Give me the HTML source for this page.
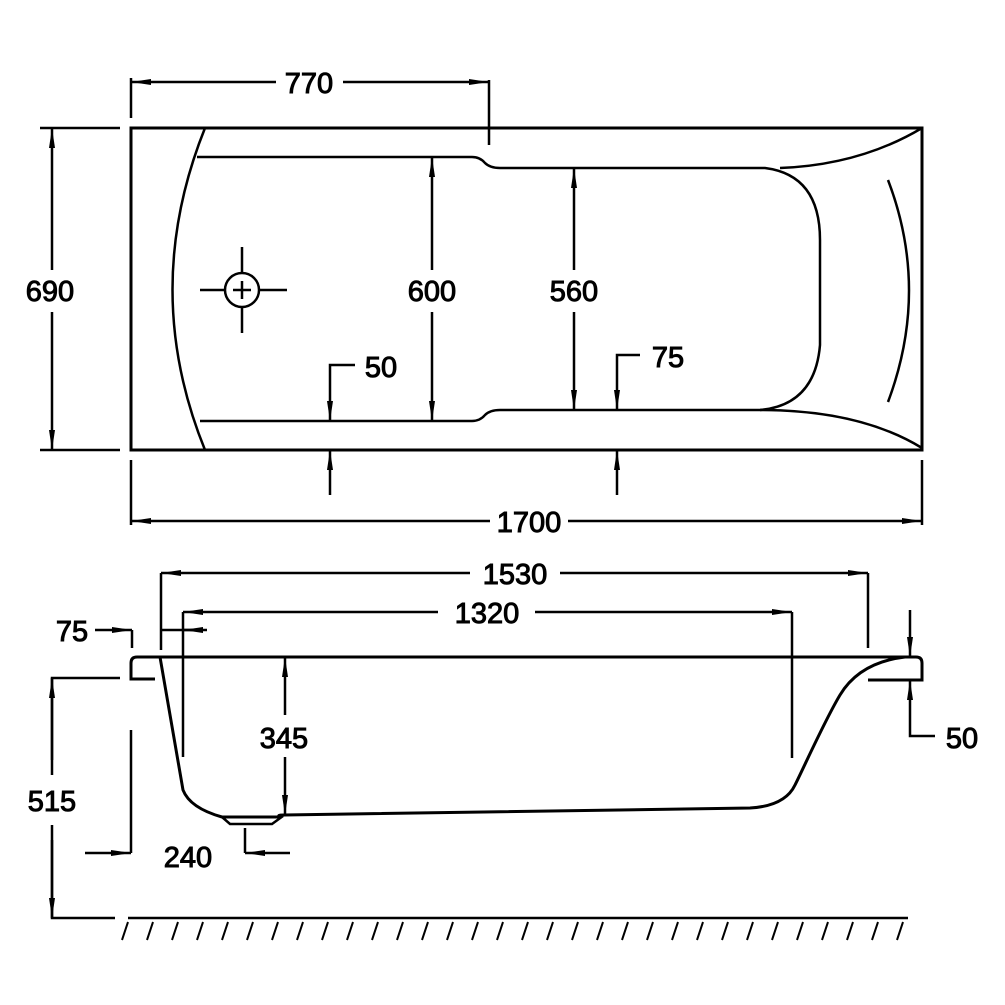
<!DOCTYPE html>
<html><head><style>html,body{margin:0;padding:0;background:#fff}svg{display:block}</style></head><body>
<svg width="1005" height="1005" viewBox="0 0 1005 1005" xmlns="http://www.w3.org/2000/svg">
<defs>
<marker id="a" viewBox="0 0 20 10" refX="20" refY="5" markerWidth="20" markerHeight="10" markerUnits="userSpaceOnUse" orient="auto-start-reverse"><path d="M0,2 L20,5 L0,8 Z" fill="#000"/></marker>
</defs>
<g fill="none" stroke="#000" stroke-width="2.5">
<rect x="131" y="128" width="791" height="322" stroke-width="3"/>
<path d="M205,128 Q140,290 205,450"/>
<path d="M197,157 L472,157 Q480,157 485,163 Q490,168 500,168 L765,168 Q820,175 820,240 L820,345 Q815,405 760,410 L500,410 Q490,410 485,415 Q480,421 472,421 L200,421"/>
<path d="M922,128 Q860,165 780,168"/>
<path d="M760,410 Q860,410 922,448"/>
<path d="M888,180 Q930,290 888,402"/>
<circle cx="242" cy="290" r="17"/>
<path d="M200,290 H225 M259,290 H287 M242,247 V273 M242,307 V333 M233,290 H251 M242,281 V299"/>
<path d="M131,78 V118 M489,80 V145"/>
<path d="M276,82 H131" marker-end="url(#a)"/>
<path d="M343,82 H489" marker-end="url(#a)"/>
<path d="M40,128 H120 M40,450 H120"/>
<path d="M52,270 V128" marker-end="url(#a)"/>
<path d="M52,312 V450" marker-end="url(#a)"/>
<path d="M432,270 V157" marker-end="url(#a)"/>
<path d="M432,312 V421" marker-end="url(#a)"/>
<path d="M574,270 V168" marker-end="url(#a)"/>
<path d="M574,312 V410" marker-end="url(#a)"/>
<path d="M355,365 H330 V421" marker-end="url(#a)"/>
<path d="M330,495 V450" marker-end="url(#a)"/>
<path d="M640,355 H617 V410" marker-end="url(#a)"/>
<path d="M617,495 V450" marker-end="url(#a)"/>
<path d="M131,460 V525 M922,460 V525"/>
<path d="M490,521 H131" marker-end="url(#a)"/>
<path d="M568,521 H922" marker-end="url(#a)"/>
<path d="M137,657 H916 Q922,657 922,663 V680 H868" stroke-width="3"/>
<path d="M137,657 Q131,657 131,663 V679 H155" stroke-width="3"/>
<path d="M160,657 L183,790 Q190,808 222,817 L280,817 Q276,815 284,815 L750,808 Q785,806 795,785 C805,765 825,720 840,695 C855,670 880,660 905,657" stroke-width="3"/>
<path d="M222,817 L230,824 H272 L283,816"/>
<path d="M161,573 V650 M868,573 V648"/>
<path d="M470,573 H161" marker-end="url(#a)"/>
<path d="M560,573 H868" marker-end="url(#a)"/>
<path d="M183,612 V757 M792,612 V758"/>
<path d="M438,612 H183" marker-end="url(#a)"/>
<path d="M535,612 H792" marker-end="url(#a)"/>
<path d="M95,630 H132" marker-end="url(#a)"/>
<path d="M132,630 V648"/>
<path d="M207,630 H161"/>
<path d="M200,630 H183" marker-end="url(#a)"/>
<path d="M285,715 V657" marker-end="url(#a)"/>
<path d="M285,757 V815" marker-end="url(#a)"/>
<path d="M120,678 H52 V775"/>
<path d="M52,760 V678" marker-end="url(#a)"/>
<path d="M115,918 H52 V825"/>
<path d="M52,840 V918" marker-end="url(#a)"/>
<path d="M131,730 V853"/>
<path d="M85,853 H131" marker-end="url(#a)"/>
<path d="M245,828 V853"/>
<path d="M290,853 H245" marker-end="url(#a)"/>
<path d="M910,610 V657" marker-end="url(#a)"/>
<path d="M935,736 H910 V680" marker-end="url(#a)"/>
<path d="M128,918 H908"/>
<path stroke-width="2" d="M128,922 l-6,18 M153,922 l-6,18 M178,922 l-6,18 M203,922 l-6,18 M228,922 l-6,18 M253,922 l-6,18 M278,922 l-6,18 M303,922 l-6,18 M328,922 l-6,18 M353,922 l-6,18 M378,922 l-6,18 M403,922 l-6,18 M428,922 l-6,18 M453,922 l-6,18 M478,922 l-6,18 M503,922 l-6,18 M528,922 l-6,18 M553,922 l-6,18 M578,922 l-6,18 M603,922 l-6,18 M628,922 l-6,18 M653,922 l-6,18 M678,922 l-6,18 M703,922 l-6,18 M728,922 l-6,18 M753,922 l-6,18 M778,922 l-6,18 M803,922 l-6,18 M828,922 l-6,18 M853,922 l-6,18 M878,922 l-6,18 M903,922 l-6,18"/>
</g>
<g font-family="Liberation Sans, Arial, sans-serif" font-size="29" fill="#000" stroke="#000" stroke-width="1" text-anchor="middle">
<text x="309" y="93">770</text>
<text x="50" y="301">690</text>
<text x="432" y="301">600</text>
<text x="574" y="301">560</text>
<text x="381" y="377">50</text>
<text x="668" y="367">75</text>
<text x="529" y="532">1700</text>
<text x="515" y="584">1530</text>
<text x="487" y="623">1320</text>
<text x="72" y="641">75</text>
<text x="284" y="748">345</text>
<text x="52" y="811">515</text>
<text x="188" y="867">240</text>
<text x="962" y="748">50</text>
</g>
</svg>
</body></html>
